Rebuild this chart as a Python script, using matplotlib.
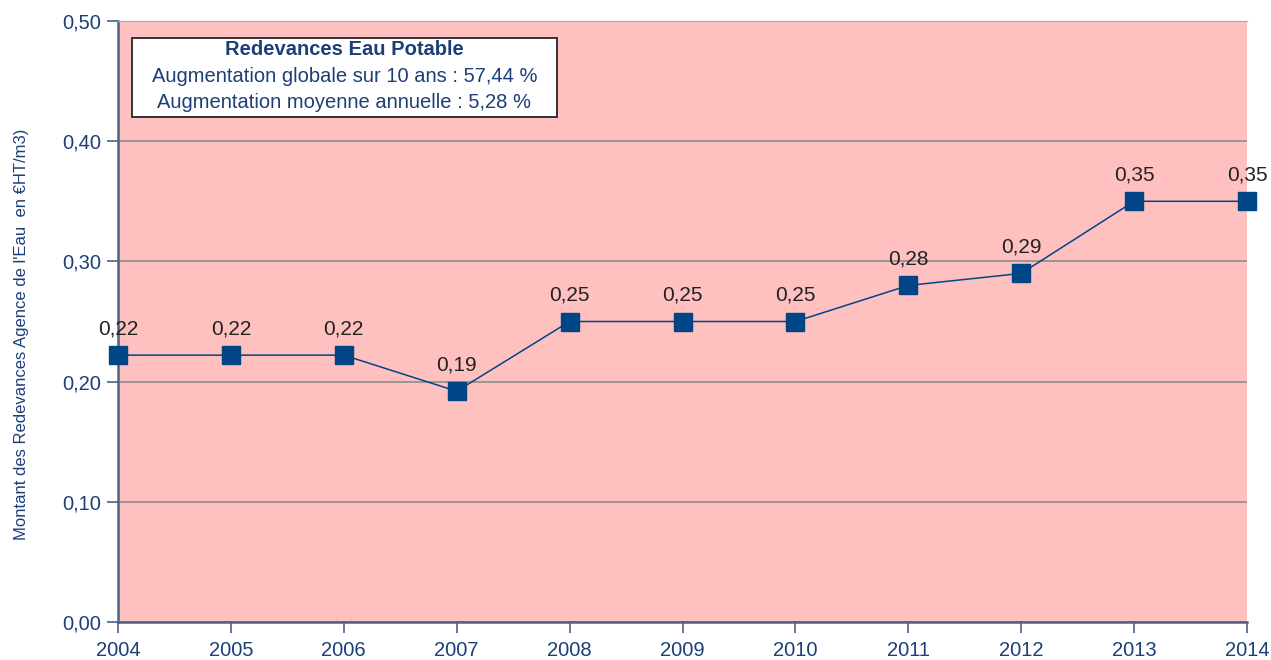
import matplotlib.pyplot as plt

plt.rcParams['font.family'] = ['Liberation Sans', 'DejaVu Sans']

# Données
annees = [2004, 2005, 2006, 2007, 2008, 2009, 2010, 2011, 2012, 2013, 2014]
redevances = [0.222, 0.222, 0.222, 0.192, 0.25, 0.25, 0.25, 0.28, 0.29, 0.35, 0.35]
etiquettes = ['0,22', '0,22', '0,22', '0,19', '0,25', '0,25', '0,25', '0,28', '0,29', '0,35', '0,35']
graduations_y = [0.0, 0.1, 0.2, 0.3, 0.4, 0.5]

bleu = '#004586'
texte_bleu = '#1c3f78'
axe = '#4a6286'

fig = plt.figure(figsize=(12.71, 6.6), dpi=100)
ax = fig.add_axes([118 / 1271, 1 - 622 / 660, (1247 - 118) / 1271, (622 - 21) / 660])
ax.set_facecolor('#ffc0c0')

ax.plot(annees, redevances, color=bleu, lw=1.1, marker='s', markersize=12.5,
        markerfacecolor=bleu, markeredgecolor=bleu, zorder=3, clip_on=False)
for x, y, t in zip(annees, redevances, etiquettes):
    ax.annotate(t, (x, y), xytext=(0, 12), textcoords='offset points',
                ha='center', va='bottom', fontsize=15, color='#222222')

ax.set_xlim(annees[0], annees[-1])
ax.set_ylim(0, 0.5)
ax.set_xticks(annees)
ax.set_yticks(graduations_y)
ax.set_yticklabels([f'{v:.2f}'.replace('.', ',') for v in graduations_y])
ax.yaxis.grid(True, color='#8c8c8c', lw=1.2)
ax.set_axisbelow(True)
ax.tick_params(axis='both', colors=axe, labelcolor=texte_bleu, labelsize=14.5,
               length=8, width=1.2)
ax.tick_params(axis='y', pad=4)
ax.tick_params(axis='x', pad=6)

for s in ['left', 'bottom']:
    ax.spines[s].set_color(axe)
    ax.spines[s].set_linewidth(1.8)
ax.spines['right'].set_visible(False)
ax.spines['top'].set_color('#b0b0b8')
ax.spines['top'].set_linewidth(1)

ax.set_ylabel("Montant des Redevances Agence de l'Eau  en €HT/m3)", fontsize=12,
              color=texte_bleu)
ax.yaxis.set_label_coords(-0.079, 0.479)

ax.text(0.2006, 0.952, 'Redevances Eau Potable', transform=ax.transAxes,
        ha='center', va='center', fontsize=14.5, fontweight='bold', color=texte_bleu)
ax.text(0.2006, 0.907, 'Augmentation globale sur 10 ans : 57,44 %', transform=ax.transAxes,
        ha='center', va='center', fontsize=14.5, color=texte_bleu)
ax.text(0.2006, 0.8636, 'Augmentation moyenne annuelle : 5,28 %', transform=ax.transAxes,
        ha='center', va='center', fontsize=14.5, color=texte_bleu)
ax.add_patch(plt.Rectangle((0.0124, 0.840), 0.376, 0.1317, transform=ax.transAxes,
                           facecolor='white', edgecolor='#333333', lw=1.4, zorder=1))

fig.savefig('out.png', dpi=100)
